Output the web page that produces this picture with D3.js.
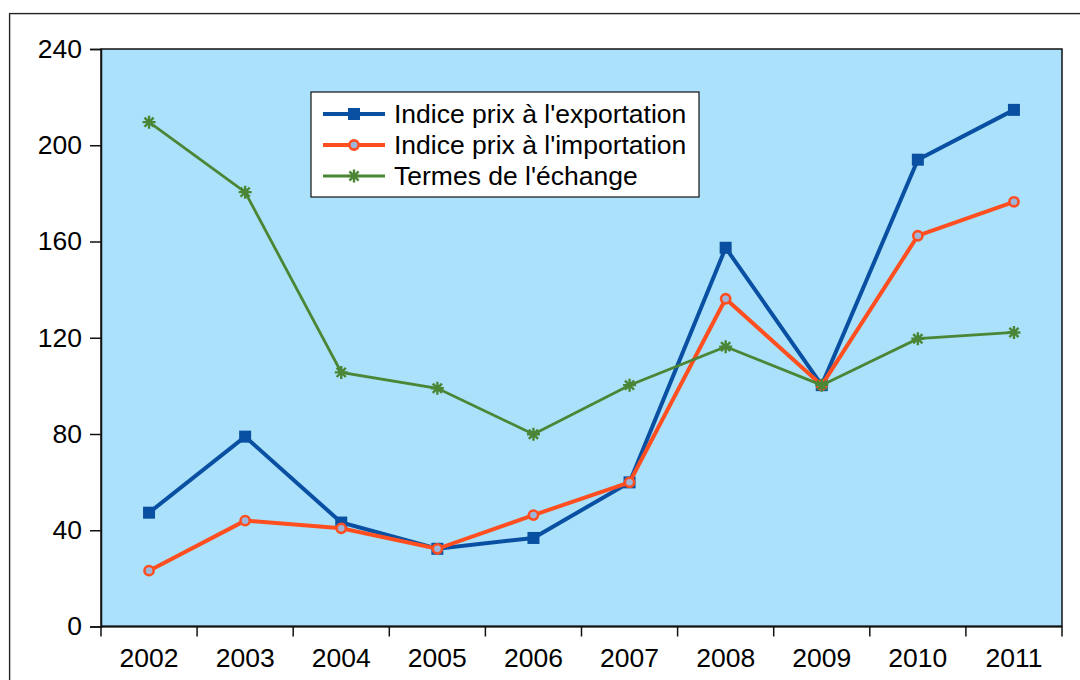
<!DOCTYPE html>
<html>
<head>
<meta charset="utf-8">
<script src="https://cdn.jsdelivr.net/npm/d3@7"></script>
<style>
  html, body { margin: 0; padding: 0; background: #fff; }
  svg { display: block; font-family: "Liberation Sans", Arial, sans-serif; }
</style>
</head>
<body>
<div id="chart"></div>
<script>
// data
const years = ["2002", "2003", "2004", "2005", "2006", "2007", "2008", "2009", "2010", "2011"];
const exportIndex = [47.3, 78.9, 43.2, 32.3, 36.8, 59.9, 157.4, 100.3, 194, 214.7];
const importIndex = [23.2, 44, 40.8, 32.3, 46.3, 59.9, 136.2, 100.3, 162.4, 176.5];
const termsOfTrade = [209.6, 180.5, 105.6, 99, 79.9, 100.3, 116.3, 100.3, 119.6, 122.2];
const yTicks = [0, 40, 80, 120, 160, 200, 240];

const seriesNames = ["Indice prix à l'exportation", "Indice prix à l'importation", "Termes de l'échange"];

const width = 1080, height = 680;
const margin = {top: 49, right: 18, bottom: 53, left: 101};
const fontSize = 26.5;

const svg = d3.select("#chart").append("svg")
    .attr("width", width)
    .attr("height", height);

// outer frame
svg.append("rect")
    .attr("x", 10.5).attr("y", 14.5)
    .attr("width", width).attr("height", height)
    .attr("fill", "none").attr("stroke", "#d0d0d0").attr("stroke-width", 1);
svg.append("rect")
    .attr("x", 9.5).attr("y", 13.5)
    .attr("width", width).attr("height", height)
    .attr("fill", "none").attr("stroke", "#222").attr("stroke-width", 1.2);

const x = d3.scaleBand(years, [margin.left, width - margin.right]);
const y = d3.scaleLinear([0, 240], [height - margin.bottom - 0.5, margin.top]);
const cx = d => x(d) + x.bandwidth() / 2;

// plot background
svg.append("rect")
    .attr("x", margin.left).attr("y", margin.top)
    .attr("width", width - margin.left - margin.right)
    .attr("height", y(0) - margin.top)
    .attr("fill", "#abe1fa")
    .attr("stroke", "#111").attr("stroke-width", 1.5);

// y axis
svg.append("g")
    .attr("transform", `translate(${margin.left},0)`)
    .call(d3.axisLeft(y).tickValues(yTicks).tickSize(11).tickPadding(8))
    .call(g => g.select(".domain").attr("stroke", "#111").attr("stroke-width", 1.5))
    .call(g => g.selectAll(".tick line").attr("stroke", "#111").attr("stroke-width", 1.5))
    .call(g => g.selectAll(".tick text").attr("font-size", fontSize).attr("fill", "#000")
        .attr("font-family", "Liberation Sans, Arial, sans-serif"));

// x axis (ticks on band boundaries)
const xAxis = svg.append("g")
    .attr("transform", `translate(0,${y(0)})`);
xAxis.append("line")
    .attr("x1", margin.left).attr("x2", width - margin.right)
    .attr("stroke", "#111").attr("stroke-width", 2);
xAxis.selectAll("line.tk")
    .data(years.concat(["end"]))
    .join("line")
    .attr("class", "tk")
    .attr("x1", (d, i) => i < years.length ? x(d) : x(years[years.length - 1]) + x.bandwidth())
    .attr("x2", (d, i) => i < years.length ? x(d) : x(years[years.length - 1]) + x.bandwidth())
    .attr("y1", 0).attr("y2", 10)
    .attr("stroke", "#111").attr("stroke-width", 1.5);
xAxis.selectAll("text")
    .data(years)
    .join("text")
    .attr("x", d => cx(d))
    .attr("y", 40.5)
    .attr("text-anchor", "middle")
    .attr("font-size", fontSize)
    .text(d => d);

const line = d3.line().x((d, i) => cx(years[i])).y(d => y(d));

const colors = {exp: "#0a50a2", imp: "#ff4e1f", terms: "#4a8636"};

// asterisk marker path
function asterisk(r) {
  let p = "";
  for (let k = 0; k < 4; k++) {
    const a = k * Math.PI / 4;
    const dx = r * Math.cos(a), dy = r * Math.sin(a);
    p += `M${-dx},${-dy}L${dx},${dy}`;
  }
  return p;
}

function drawMarker(g, type, color) {
  if (type === "square") {
    g.append("rect").attr("x", -6).attr("y", -6).attr("width", 12).attr("height", 12)
        .attr("fill", color);
  } else if (type === "circle") {
    g.append("circle").attr("r", 4.6).attr("fill", "#9db7dc")
        .attr("stroke", color).attr("stroke-width", 2.6);
  } else {
    g.append("path").attr("d", asterisk(6.5)).attr("stroke", color)
        .attr("stroke-width", 2.4).attr("fill", "none");
  }
}

const series = [
  {values: exportIndex, color: colors.exp, width: 4, marker: "square"},
  {values: importIndex, color: colors.imp, width: 4, marker: "circle"},
  {values: termsOfTrade, color: colors.terms, width: 2.8, marker: "asterisk"}
];

series.forEach(s => {
  svg.append("path")
      .attr("d", line(s.values))
      .attr("fill", "none")
      .attr("stroke", s.color)
      .attr("stroke-width", s.width)
      .attr("stroke-linejoin", "miter");
  s.values.forEach((v, i) => {
    const g = svg.append("g").attr("transform", `translate(${cx(years[i])},${y(v)})`);
    drawMarker(g, s.marker, s.color);
  });
});

// legend
const legend = svg.append("g").attr("transform", "translate(311,92)");
legend.append("rect")
    .attr("width", 388).attr("height", 105)
    .attr("fill", "#fff").attr("stroke", "#111").attr("stroke-width", 1.2);
series.forEach((s, i) => {
  const ly = 22 + i * 31;
  legend.append("line")
      .attr("x1", 12).attr("x2", 74).attr("y1", ly).attr("y2", ly)
      .attr("stroke", s.color).attr("stroke-width", s.width);
  const g = legend.append("g").attr("transform", `translate(43,${ly})`);
  drawMarker(g, s.marker, s.color);
  legend.append("text")
      .attr("x", 83).attr("y", ly + 9)
      .attr("font-size", fontSize)
      .text(seriesNames[i]);
});
</script>
</body>
</html>
